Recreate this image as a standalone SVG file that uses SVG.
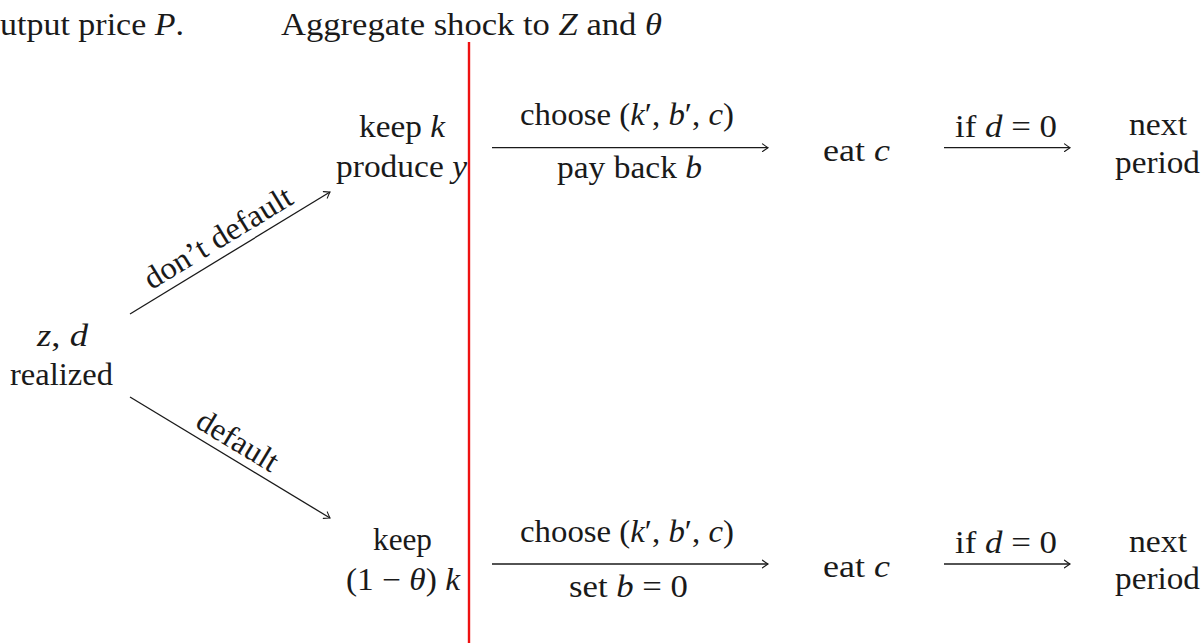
<svg xmlns="http://www.w3.org/2000/svg" width="1203" height="643" viewBox="0 0 1203 643">
<style>
text{font-family:"Liberation Serif","Times New Roman",serif;font-size:31.5px;fill:#1a1a1a}
.m{text-anchor:middle}
.i{font-style:italic}
.edge{stroke:#1a1a1a;stroke-width:1.3;fill:none;marker-end:url(#to)}
</style>
<defs>
<marker id="to" viewBox="-7 -5 9 10" refX="0" refY="0" markerWidth="9" markerHeight="10" orient="auto" markerUnits="userSpaceOnUse">
<path d="M-5.5,-3.8 Q-1.6,-0.9 0,0 Q-1.6,0.9 -5.5,3.8" fill="none" stroke="#1a1a1a" stroke-width="1.1" stroke-linecap="round"/>
</marker>
</defs>
<rect width="1203" height="643" fill="#fff"/>
<g id="header">
<text x="0" y="35" textLength="184" lengthAdjust="spacingAndGlyphs">utput price <tspan class="i">P</tspan>.</text>
<text x="281" y="35" textLength="381" lengthAdjust="spacingAndGlyphs">Aggregate shock to <tspan class="i">Z</tspan> and <tspan class="i">θ</tspan></text>
</g>
<g id="divider">
<line x1="469" y1="42" x2="469" y2="643" stroke="#ee1111" stroke-width="2.4"/>
</g>
<g id="connectors">
<line class="edge" x1="130" y1="314" x2="330" y2="192"/>
<line class="edge" x1="130" y1="397" x2="330" y2="518"/>
<line class="edge" x1="492" y1="147.7" x2="768" y2="147.7"/>
<line class="edge" x1="944" y1="147.7" x2="1070" y2="147.7"/>
<line class="edge" x1="492" y1="564" x2="768" y2="564"/>
<line class="edge" x1="944" y1="564" x2="1070" y2="564"/>
<text class="m" transform="translate(228,254.2) rotate(-31.4)" x="0" y="-9" textLength="168" lengthAdjust="spacingAndGlyphs">don’t default</text>
<text class="m" transform="translate(228.3,456.5) rotate(31.2)" x="0" y="-8" textLength="90" lengthAdjust="spacingAndGlyphs">default</text>
<text class="m" x="627" y="125" textLength="214" lengthAdjust="spacingAndGlyphs">choose (<tspan class="i">k</tspan>′, <tspan class="i">b</tspan>′, <tspan class="i">c</tspan>)</text>
<text class="m" x="629.5" y="178" textLength="145" lengthAdjust="spacingAndGlyphs">pay back <tspan class="i">b</tspan></text>
<text class="m" x="1006" y="136.7" textLength="102" lengthAdjust="spacingAndGlyphs">if <tspan class="i">d</tspan> = 0</text>
<text class="m" x="627" y="541.7" textLength="214" lengthAdjust="spacingAndGlyphs">choose (<tspan class="i">k</tspan>′, <tspan class="i">b</tspan>′, <tspan class="i">c</tspan>)</text>
<text class="m" x="628.5" y="596.7" textLength="119" lengthAdjust="spacingAndGlyphs">set <tspan class="i">b</tspan> = 0</text>
<text class="m" x="1006" y="553" textLength="102" lengthAdjust="spacingAndGlyphs">if <tspan class="i">d</tspan> = 0</text>
</g>
<g id="node-start">
<text class="m" x="62.5" y="346" textLength="51" lengthAdjust="spacingAndGlyphs"><tspan class="i">z</tspan>, <tspan class="i">d</tspan></text>
<text class="m" x="61.5" y="385" textLength="103" lengthAdjust="spacingAndGlyphs">realized</text>
</g>
<g id="node-keep-top">
<text class="m" x="402" y="136.7" textLength="86" lengthAdjust="spacingAndGlyphs">keep <tspan class="i">k</tspan></text>
<text class="m" x="401.5" y="176.7" textLength="131" lengthAdjust="spacingAndGlyphs">produce <tspan class="i">y</tspan></text>
</g>
<g id="node-eat-top">
<text class="m" x="856.5" y="161" textLength="67" lengthAdjust="spacingAndGlyphs">eat <tspan class="i">c</tspan></text>
</g>
<g id="node-next-top">
<text class="m" x="1158" y="135" textLength="58" lengthAdjust="spacingAndGlyphs">next</text>
<text class="m" x="1157.5" y="173" textLength="85" lengthAdjust="spacingAndGlyphs">period</text>
</g>
<g id="node-keep-bottom">
<text class="m" x="402.5" y="550" textLength="59" lengthAdjust="spacingAndGlyphs">keep</text>
<text class="m" x="403" y="590" textLength="114" lengthAdjust="spacingAndGlyphs">(1 − <tspan class="i">θ</tspan>) <tspan class="i">k</tspan></text>
</g>
<g id="node-eat-bottom">
<text class="m" x="856.5" y="577" textLength="67" lengthAdjust="spacingAndGlyphs">eat <tspan class="i">c</tspan></text>
</g>
<g id="node-next-bottom">
<text class="m" x="1158" y="552" textLength="58" lengthAdjust="spacingAndGlyphs">next</text>
<text class="m" x="1157.5" y="589" textLength="85" lengthAdjust="spacingAndGlyphs">period</text>
</g>
</svg>
